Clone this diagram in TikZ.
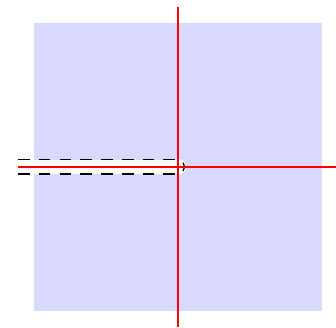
\documentclass[tikz,border=0pt]{standalone}
\usepackage{tikz}
\begin{document}
\begin{tikzpicture}[
    axis/.style={red, line width=0.7pt},
    cut/.style={black, line width=0.5pt, dash pattern=on 4.6pt off 3.6pt}]
    \useasboundingbox (-2.47,-2.226) rectangle (2.19,2.314);
    % the plane
    \fill[blue!15] (-2,-2) rectangle (2,2);
    % slit along the negative real axis
    \fill[white] (-2.22,-0.1) rectangle (0,0.1);
    \fill[white] (0,0) circle (0.11);
    \draw[cut] (-2.22,0.1) -- (0,0.1);
    \draw[cut] (-2.22,-0.1) -- (0,-0.1);
    \draw[line width=0.5pt] (-40:0.09) arc (-40:40:0.09);
    % axes
    \draw[axis] (-2.22,0) -- (2.19,0);
    \draw[axis] (0,-2.22) -- (0,2.22);
\end{tikzpicture}
\end{document}
